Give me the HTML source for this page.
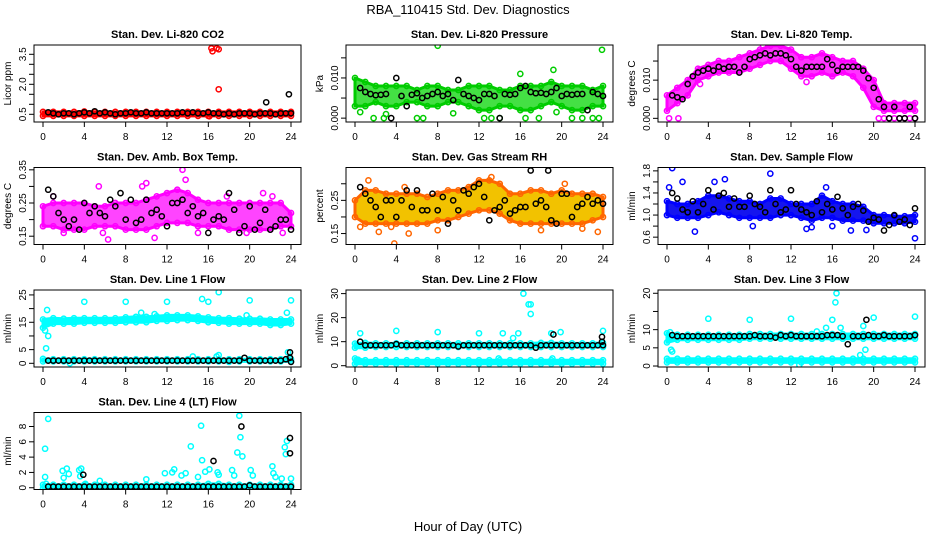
<!DOCTYPE html>
<html><head><meta charset="utf-8"><style>
body{margin:0;background:#fff}
svg{display:block;font-family:"Liberation Sans",sans-serif}
</style></head><body>
<svg id="chart" width="936" height="540" viewBox="0 0 936 540" xmlns="http://www.w3.org/2000/svg">
<rect width="936" height="540" fill="#fff"/>
<text x="468" y="14" text-anchor="middle" font-size="13">RBA_110415  Std. Dev. Diagnostics</text>
<text x="468" y="531" text-anchor="middle" font-size="13">Hour of Day (UTC)</text>
</svg>
<script>
const xTicks=[0,4,8,12,16,20,24];
// ---- CO2
const co2Lo=[0.42,0.42,0.42,0.42,0.42,0.42,0.42,0.42,0.42,0.42,0.42,0.42,0.42,0.42,0.42,0.42,0.42,0.42,0.42,0.42,0.42,0.42,0.42,0.42,0.42];
const co2Hi=[0.62,0.62,0.62,0.62,0.64,0.62,0.62,0.62,0.62,0.62,0.62,0.62,0.62,0.62,0.62,0.62,0.62,0.62,0.62,0.62,0.62,0.62,0.62,0.62,0.62];
const co2Out=[[16.3,3.8],[16.4,3.65],[16.8,3.8],[17.0,3.75],[17.0,1.75],[16.1,0.4]];
const co2Blk=[0.6,0.55,0.5,0.55,0.55,0.5,0.55,0.6,0.55,0.65,0.55,0.6,0.55,0.5,0.55,0.55,0.6,0.55,0.55,0.6,0.55,0.55,0.55,0.55,0.55,0.55,0.6,0.55,0.6,0.55,0.55,0.6,0.55,0.55,0.5,0.55,0.5,0.55,0.55,0.55,0.5,0.55,0.55,0.55,0.5,0.55,0.55,0.55];
const co2BlkOut=[[21.6,1.1],[23.8,1.5]];
// ---- Pressure
const prLo=[0.003,0.003,0.004,0.003,0.003,0.004,0.004,0.003,0.003,0.004,0.004,0.003,0.002,0.002,0.003,0.003,0.002,0.002,0.003,0.004,0.003,0.002,0.002,0.003,0.003];
const prHi=[0.010,0.009,0.008,0.008,0.008,0.008,0.007,0.008,0.008,0.007,0.007,0.008,0.008,0.008,0.007,0.007,0.008,0.008,0.008,0.009,0.008,0.008,0.008,0.007,0.008];
const prOut=[[8,0.018],[23.9,0.017],[19.2,0.012],[16,0.011],[1.8,0],[2.8,0],[6,0],[6.6,0],[12.5,0],[13.2,0],[14,0],[16.5,0],[17.8,0],[21,0],[22,0],[23,0],[23.6,0],[0.5,0.0015],[3,0.001],[9.5,0.0012],[19.5,0.0015]];
const prBlk=[0.0075,0.0065,0.006,0.0057,0.0058,0.006,0.0,0.01,0.0055,0.003,0.0058,0.0062,0.005,0.0055,0.006,0.0065,0.0055,0.006,0.0045,0.0095,0.006,0.0055,0.005,0.0045,0.006,0.006,0.0055,0.0,0.006,0.0058,0.006,0.0075,0.008,0.0065,0.0062,0.0063,0.006,0.0065,0.0075,0.0055,0.006,0.0058,0.006,0.006,0.002,0.0065,0.006,0.0055];
// ---- Li-820 Temp
const tLo=[0.002,0.004,0.006,0.010,0.011,0.012,0.012,0.012,0.013,0.014,0.015,0.015,0.013,0.011,0.011,0.012,0.011,0.012,0.011,0.008,0.003,0.002,0.002,0.002,0.002];
const tHi=[0.006,0.008,0.010,0.013,0.014,0.015,0.015,0.016,0.017,0.018,0.019,0.019,0.018,0.016,0.016,0.017,0.016,0.015,0.015,0.013,0.010,0.004,0.004,0.004,0.004];
const tOut=[[0.2,0],[1.1,0],[20.5,0],[21,0],[21.5,0],[22,0],[22.5,0],[23,0],[23.5,0],[24,0],[9.3,0.019],[13.5,0.0095],[3.2,0.009]];
const tBlk=[0.006,0.0055,0.005,0.009,0.011,0.012,0.0125,0.013,0.0125,0.0135,0.013,0.0135,0.0135,0.012,0.0135,0.0155,0.016,0.0165,0.017,0.0165,0.017,0.017,0.0165,0.0155,0.0135,0.0125,0.0135,0.0135,0.0135,0.0135,0.0155,0.014,0.0125,0.0135,0.0135,0.0135,0.0135,0.0125,0.0105,0.008,0.005,0.003,0.0,0.003,0.0,0.0,0.003,0.0];
// ---- Amb box temp
const aLo=[0.18,0.18,0.17,0.17,0.17,0.18,0.18,0.18,0.17,0.17,0.17,0.18,0.19,0.19,0.19,0.18,0.18,0.18,0.17,0.17,0.17,0.17,0.17,0.18,0.18];
const aHi=[0.24,0.25,0.25,0.25,0.25,0.24,0.24,0.25,0.25,0.25,0.26,0.27,0.28,0.29,0.28,0.26,0.25,0.25,0.25,0.25,0.25,0.25,0.25,0.25,0.22];
const aOut=[[13.5,0.35],[13.8,0.32],[10,0.31],[9.6,0.3],[5.4,0.3],[1,0.27],[6.3,0.14],[10.8,0.145],[17.8,0.27],[21.3,0.28],[22.2,0.27],[5.8,0.16],[2,0.16],[15,0.16],[19.7,0.16],[23.2,0.16]];
const aBlk=[0.29,0.27,0.22,0.2,0.18,0.2,0.17,0.25,0.22,0.24,0.22,0.21,0.26,0.24,0.28,0.2,0.26,0.19,0.2,0.26,0.22,0.23,0.21,0.18,0.25,0.25,0.26,0.22,0.24,0.21,0.22,0.16,0.2,0.21,0.2,0.28,0.23,0.16,0.18,0.24,0.17,0.19,0.23,0.17,0.18,0.2,0.2,0.17];
// ---- Gas stream RH
const rLo=[0.2,0.18,0.18,0.18,0.18,0.18,0.18,0.18,0.19,0.19,0.2,0.21,0.22,0.22,0.21,0.19,0.18,0.18,0.18,0.18,0.18,0.18,0.18,0.19,0.2];
const rHi=[0.25,0.28,0.28,0.27,0.27,0.27,0.27,0.26,0.27,0.28,0.28,0.29,0.31,0.31,0.3,0.27,0.27,0.28,0.28,0.27,0.28,0.27,0.27,0.27,0.26];
const rOut=[[1.3,0.31],[3.8,0.12],[2.3,0.155],[5.2,0.15],[23.5,0.155],[13.2,0.32],[0.5,0.17],[3.5,0.17],[8,0.16],[18,0.16],[22,0.165],[20.3,0.3],[4.8,0.29]];
const rBlk=[0.29,0.27,0.25,0.23,0.2,0.25,0.25,0.2,0.25,0.28,0.23,0.28,0.22,0.22,0.27,0.22,0.26,0.18,0.25,0.22,0.28,0.27,0.29,0.3,0.26,0.19,0.22,0.23,0.25,0.21,0.22,0.23,0.23,0.34,0.24,0.25,0.23,0.19,0.18,0.27,0.27,0.2,0.23,0.24,0.26,0.24,0.25,0.24];
// ---- Sample flow
const sLo=[1.0,0.95,0.95,0.95,1.0,1.05,1.0,0.95,0.95,0.95,0.95,1.0,1.0,0.95,0.9,0.95,0.95,0.9,0.9,0.9,0.85,0.85,0.85,0.85,0.88];
const sHi=[1.25,1.2,1.2,1.25,1.35,1.35,1.3,1.25,1.25,1.2,1.3,1.3,1.2,1.2,1.2,1.35,1.25,1.2,1.2,1.15,1.0,1.0,0.98,0.98,1.0];
const sOut=[[0.5,1.85],[1.5,1.6],[4.6,1.6],[5.6,1.65],[10,1.75],[2.7,0.7],[8.3,0.8],[13.5,0.75],[14,0.78],[16,0.8],[17.8,0.72],[19.3,0.73],[24,0.58],[0.2,1.5],[15.4,1.5]];
const sBlk=[1.4,1.3,1.1,1.05,1.25,1.05,1.2,1.45,1.1,1.35,1.4,1.15,1.3,1.15,1.15,1.35,1.2,1.15,1.05,1.45,1.2,1.05,1.1,1.45,1.2,1.1,1.05,1.0,1.25,1.05,1.2,1.1,1.33,1.12,1.0,1.15,1.2,1.08,0.88,0.95,0.92,0.72,0.82,1.0,0.88,0.92,0.82,1.12];
// ---- Line 1
const l1Lo=[13,14.5,14.5,14.5,14.8,14.8,14.8,14.8,15,15,15,15.5,15.5,15.8,15.8,15.5,15,14.8,14.5,14.5,14.5,14.5,14,14,14.5];
const l1Hi=[16,16.5,16.3,16.5,16.5,16.5,16.5,16.5,16.8,17,17,17.2,17.5,17.5,17.5,17.2,16.8,16.5,16.5,16.3,16.3,16.3,16,16,16];
const l1Lo2=[0.7,0.7,0.7,0.7,0.7,0.7,0.7,0.7,0.7,0.7,0.7,0.7,0.7,0.7,0.7,0.7,0.7,0.7,0.7,0.7,0.7,0.7,0.7,0.7,0.7];
const l1Hi2=[1.6,1.5,1.5,1.5,1.5,1.5,1.5,1.5,1.5,1.5,1.5,1.5,1.5,1.5,1.5,1.5,1.5,1.5,1.5,1.5,1.5,1.5,1.5,1.5,1.5];
const l1Out=[[0.4,19.5],[0.3,5.5],[0.5,10],[0.2,12],[4,22.5],[8,22.5],[12,22.5],[15.4,23.5],[16,22.5],[17,26],[20,23],[24,23],[2.6,0],[18,0.5],[23.7,4],[23.6,18.5],[17,3],[14.5,2.5],[16.8,2.5],[9.5,18.5],[10.8,18],[19.7,17.5]];
const l1Blk=[1,1,1,1,1,1,1,1,1,1,1,1,1,1,1,1,1,1,1,1,1,1,1,1,1,1,1,1,1,1,1,1,1,1,1,1,1,1,2,1,1,1,1,1,1,1,1.5,0.5];
const l1BlkOut=[[23.9,4],[23.9,2]];
// ---- Line 2
const l2Lo=[0.8,0.8,0.8,0.8,0.8,0.8,0.8,0.8,0.8,0.8,0.8,0.8,0.8,0.8,0.8,0.8,0.8,0.8,0.8,0.8,0.8,0.8,0.8,0.8,0.8];
const l2Hi=[3,2.3,2.3,2.3,2.3,2.3,2.3,2.3,2.3,2.3,2.3,2.3,2.3,2.3,2.3,2.3,2.3,2.3,2.3,2.3,2.3,2.3,2.3,2.3,2.3];
const l2Lo2=[7.5,7.5,7.8,7.8,7.8,7.8,7.8,7.8,7.8,7.8,7.8,7.8,7.8,7.8,7.8,7.8,7.8,7.8,7.8,7.8,7.8,7.8,7.8,7.8,7.8];
const l2Hi2=[9.2,9.5,9.3,9.3,9.3,9.3,9.3,9.3,9.3,9.3,9.3,9.3,9.3,9.3,9.3,9.3,9.3,9.3,9.5,9.5,9.3,9.3,9.3,9.3,9.5];
const l2Out=[[0.5,13.5],[4,14.5],[8,14],[12,13.5],[14.3,13.5],[15.8,13.5],[16.3,30],[16.8,25.5],[17,25.5],[17,21.5],[19,13.5],[19.9,14],[24,14.5],[15.3,11.5],[13.9,3],[19.1,3],[0.3,2.5]];
const l2Blk=[10,8.5,8.5,8.5,8.5,8.5,8.5,9,8.5,8.5,8.5,8.5,8.5,8.5,8.5,8.5,8.5,8.5,8.5,8,8.5,8.5,8.5,8.5,8.5,8.5,8.5,8.5,8.5,8.5,8.5,8.5,8.5,8.5,7.5,8.5,8.5,8.5,8.5,8.5,8.5,8.5,8.5,8.5,8.5,8.5,8.5,8.5];
const l2BlkOut=[[19.2,13],[23.9,12],[23.9,10]];
// ---- Line 3
const l3Lo=[1.0,1.0,1.0,1.0,1.0,1.0,1.0,1.0,1.0,1.0,1.0,1.0,1.0,1.0,1.0,1.0,1.0,1.0,1.0,1.0,1.0,1.0,1.0,1.0,1.0];
const l3Hi=[2,2,2,2,2,2,2,2,2,2,2,2,2,2,2,2,2,2,2,2,2,2,2,2,2];
const l3Lo2=[6.5,7.2,7.2,7.2,7.2,7.2,7.2,7.2,7.5,7.5,7.5,7.5,7.5,7.5,7.5,7.5,7.5,7.5,7.5,7.5,7.5,7.5,7.5,7.5,7.5];
const l3Hi2=[9,8.6,8.6,8.6,8.6,8.6,8.6,8.6,8.8,8.8,8.8,8.8,8.8,8.8,8.8,8.8,8.8,8.8,8.8,8.8,8.8,8.8,8.8,8.8,8.8];
const l3Out=[[0.3,9.3],[0.4,4.5],[0.5,4],[4,13],[8,12.7],[12,13],[16,12.7],[16.3,17.5],[16.4,20],[20,13.3],[24,13.6],[15.4,10.5],[16.8,10.5],[19,11],[19.2,4.5],[18.7,3],[12.8,0.3],[14.5,9.5]];
const l3Blk=[8.5,8.2,8.2,8.2,8.2,8.2,8.2,8.2,8.2,8.2,8.2,8.2,8.2,8.2,8.2,8.2,8.5,8.2,8.2,8.2,7.8,8.5,8.2,8.5,8.2,8.2,8.2,8.2,8.2,8.2,8.5,8.5,8.5,8.2,6,8.2,8.2,8.2,8.5,8.2,8.2,8.5,8.2,8.2,8.2,8.2,8.2,8.5];
const l3BlkOut=[[19.3,12.7]];
// ---- Line 4
const l4Lo=[-0.1,-0.1,-0.1,-0.1,-0.1,-0.1,-0.1,-0.1,-0.1,-0.1,-0.1,-0.1,-0.1,-0.1,-0.1,-0.1,-0.1,-0.1,-0.1,-0.1,-0.1,-0.1,-0.1,-0.1,-0.1];
const l4Hi=[0.4,0.4,0.4,0.4,0.4,0.4,0.4,0.4,0.4,0.4,0.4,0.4,0.4,0.4,0.4,0.4,0.5,0.5,0.4,0.4,0.4,0.4,0.4,0.4,0.4];
const l4Out=[[0.2,5.1],[0.5,9],[0.2,1.4],[0.3,0.5],[1.9,2.2],[2,1.3],[2.3,2.5],[2.5,1.8],[3.5,2.3],[3.7,2.5],[3.6,1.5],[4.1,0.5],[5.5,0.9],[10,1.1],[11.8,1.9],[12.5,2],[12.7,2.4],[13.4,1.6],[13.8,1.9],[14.3,5.4],[15,1.4],[15.3,8.1],[15.4,3.6],[15.7,2.1],[16.1,2.4],[16.9,2],[17,1.7],[18.3,2.3],[18.5,1.6],[18.8,4.6],[19,9.4],[19.1,6.6],[19.3,4.1],[20.1,2.3],[20.3,1.6],[22.2,2.8],[22.3,1.9],[22.5,1.4],[23.1,1.2],[23.4,5.3],[23.5,4.4],[23.6,6.1],[24,1.2]];
const l4Blk=[0.15,0.15,0.15,0.15,0.15,0.15,0.15,0.15,0.15,0.15,0.15,0.15,0.15,0.15,0.15,0.15,0.15,0.15,0.15,0.15,0.15,0.15,0.15,0.15,0.15,0.15,0.15,0.15,0.15,0.15,0.15,0.15,0.15,0.15,0.15,0.15,0.15,0.15,0.15,0.3,0.15,0.15,0.15,0.15,0.15,0.15,0.15,0.15];
const l4BlkOut=[[3.9,1.7],[16.5,3.5],[19.2,8],[23.9,6.5],[23.9,4.5]];

const panels=[
 {name:'co2',col:0,row:0,title:'Stan. Dev. Li-820 CO2',ylab:'Licor ppm',ylim:[0.115,3.965],ticks:[0.5,1,1.5,2,2.5,3,3.5],labels:{0.5:'0.5',2:'2.0',3.5:'3.5'},color:'#ff0000',fill:'#ff0000',bands:[[co2Lo,co2Hi]],out:co2Out,blk:co2Blk,blkOut:co2BlkOut},
 {name:'pressure',col:1,row:0,title:'Stan. Dev. Li-820 Pressure',ylab:'kPa',ylim:[-0.00096,0.0182],ticks:[0,0.005,0.01,0.015],labels:{0:'0.000',0.01:'0.010'},color:'#00cc00',fill:'#44e044',bands:[[prLo,prHi]],out:prOut,blk:prBlk,blkOut:[]},
 {name:'li820-temp',col:2,row:0,title:'Stan. Dev. Li-820 Temp.',ylab:'degrees C',ylim:[-0.00096,0.0192],ticks:[0,0.005,0.01,0.015],labels:{0:'0.000',0.01:'0.010'},color:'#ff00ff',fill:'#ff33ff',bands:[[tLo,tHi]],out:tOut,blk:tBlk,blkOut:[]},
 {name:'amb-box-temp',col:0,row:1,title:'Stan. Dev. Amb. Box Temp.',ylab:'degrees C',ylim:[0.125,0.357],ticks:[0.15,0.2,0.25,0.3,0.35],labels:{0.15:'0.15',0.25:'0.25',0.35:'0.35'},color:'#ff00ff',fill:'#ff44ff',bands:[[aLo,aHi]],out:aOut,blk:aBlk,blkOut:[]},
 {name:'gas-stream-rh',col:1,row:1,title:'Stan. Dev. Gas Stream RH',ylab:'percent',ylim:[0.117,0.349],ticks:[0.15,0.2,0.25,0.3],labels:{0.15:'0.15',0.25:'0.25'},color:'#ff6600',fill:'#f2c200',bands:[[rLo,rHi]],out:rOut,blk:rBlk,blkOut:[[18.7,0.34]]},
 {name:'sample-flow',col:2,row:1,title:'Stan. Dev. Sample Flow',ylab:'ml/min',ylim:[0.467,1.861],ticks:[0.6,0.8,1.0,1.2,1.4,1.6,1.8],labels:{0.6:'0.6',1:'1.0',1.4:'1.4',1.8:'1.8'},color:'#0000ff',fill:'#1515ee',bands:[[sLo,sHi]],out:sOut,blk:sBlk,blkOut:[]},
 {name:'line1-flow',col:0,row:2,title:'Stan. Dev. Line 1 Flow',ylab:'ml/min',ylim:[-1.35,26.8],ticks:[0,5,10,15,20,25],labels:{0:'0',5:'5',15:'15',25:'25'},color:'#00ffff',fill:'#00ffff',bands:[[l1Lo,l1Hi],[l1Lo2,l1Hi2]],out:l1Out,blk:l1Blk,blkOut:l1BlkOut},
 {name:'line2-flow',col:1,row:2,title:'Stan. Dev. Line 2 Flow',ylab:'ml/min',ylim:[-0.54,31.5],ticks:[0,10,20,30],labels:{0:'0',10:'10',20:'20',30:'30'},color:'#00ffff',fill:'#00ffff',bands:[[l2Lo,l2Hi],[l2Lo2,l2Hi2]],out:l2Out,blk:l2Blk,blkOut:l2BlkOut},
 {name:'line3-flow',col:2,row:2,title:'Stan. Dev. Line 3 Flow',ylab:'ml/min',ylim:[-0.27,20.9],ticks:[0,5,10,15,20],labels:{0:'0',5:'5',10:'10',20:'20'},color:'#00ffff',fill:'#00ffff',bands:[[l3Lo,l3Hi],[l3Lo2,l3Hi2]],out:l3Out,blk:l3Blk,blkOut:l3BlkOut},
 {name:'line4-flow',col:0,row:3,title:'Stan. Dev. Line 4 (LT) Flow',ylab:'ml/min',ylim:[-0.23,9.83],ticks:[0,2,4,6,8],labels:{0:'0',2:'2',4:'4',6:'6',8:'8'},color:'#00ffff',fill:'#00ffff',bands:[[l4Lo,l4Hi]],out:l4Out,blk:l4Blk,blkOut:l4BlkOut}
];

const NS='http://www.w3.org/2000/svg';
const svg=document.getElementById('chart');
function mk(tag,attrs,parent){const e=document.createElementNS(NS,tag);for(const k in attrs)e.setAttribute(k,attrs[k]);parent.appendChild(e);return e;}
function circ(g,x,y,color){
 const c=mk('circle',{cx:x.toFixed(1),cy:y.toFixed(1),r:2.6,fill:'none',stroke:color,'stroke-width':1.5},g);
 
 
}
panels.forEach(p=>{
 const x0=43+312*p.col, x24=291+312*p.col;
 const left=x0-9, right=x24+10;
 const top=45+122.5*p.row, bottom=top+77;
 const xm=h=>x0+h/24*(x24-x0);
 const ym=v=>bottom-(v-p.ylim[0])/(p.ylim[1]-p.ylim[0])*77;
 const g=mk('g',{},svg);
 
 
 const t=mk('text',{x:(left+right)/2,y:top-7,'text-anchor':'middle','font-size':11,'font-weight':'bold'},g);
 t.textContent=p.title;
 
 
 const yl=mk('text',{x:0,y:0,'text-anchor':'middle','font-size':10,transform:`translate(${left-23},${(top+bottom)/2}) rotate(-90)`},g);
 yl.textContent=p.ylab;
 
 
 const clip='clip-'+p.name;
 const cp=mk('clipPath',{id:clip},g);
 mk('rect',{x:left,y:top,width:right-left,height:77},cp);
 const dg=mk('g',{'clip-path':`url(#${clip})`},g);
 
 
 p.bands.forEach(([lo,hi])=>{
  let d='';
  hi.forEach((v,i)=>{d+=(i?'L':'M')+xm(i*24/(hi.length-1)).toFixed(1)+' '+ym(v).toFixed(1);});
  for(let i=lo.length-1;i>=0;i--)d+='L'+xm(i*24/(lo.length-1)).toFixed(1)+' '+ym(lo[i]).toFixed(1);
  const b=mk('path',{d:d+'Z',fill:p.fill,stroke:p.color,'stroke-width':3,'stroke-linejoin':'round'},dg);
  
  
  lo.forEach((v,i)=>circ(dg,xm(i*24/(lo.length-1)),ym(v),p.color));
  hi.forEach((v,i)=>circ(dg,xm(i*24/(hi.length-1)),ym(v),p.color));
 });
 p.out.forEach(([h,v])=>circ(dg,xm(h),ym(v),p.color));
 p.blk.forEach((v,i)=>circ(dg,xm((i+1)*0.5),ym(v),'#000'));
 p.blkOut.forEach(([h,v])=>circ(dg,xm(h),ym(v),'#000'));
 const box=mk('rect',{x:left,y:top,width:right-left,height:77,fill:'none',stroke:'#000','stroke-width':1},g);
 
 
 const xa=mk('g',{stroke:'#000','stroke-width':1},g);
 
 
 mk('line',{x1:xm(0),x2:xm(24),y1:bottom,y2:bottom},xa);
 xTicks.forEach(h=>{
  mk('line',{x1:xm(h),x2:xm(h),y1:bottom,y2:bottom+5},xa);
  const tl=mk('text',{x:xm(h),y:bottom+18,'text-anchor':'middle','font-size':10,stroke:'none'},g);
  tl.textContent=h;
  
  
 });
 const ya=mk('g',{stroke:'#000','stroke-width':1},g);
 
 
 mk('line',{x1:left,x2:left,y1:ym(p.ticks[0]),y2:ym(p.ticks[p.ticks.length-1])},ya);
 p.ticks.forEach(v=>{
  mk('line',{x1:left-5,x2:left,y1:ym(v),y2:ym(v)},ya);
  const lab=p.labels[v];
  if(lab!==undefined){
   const tl=mk('text',{x:0,y:0,'text-anchor':'middle','font-size':10,transform:`translate(${left-8},${ym(v)}) rotate(-90)`},g);
   tl.textContent=lab;
   
   
  }
 });
});
</script>
</body></html>
